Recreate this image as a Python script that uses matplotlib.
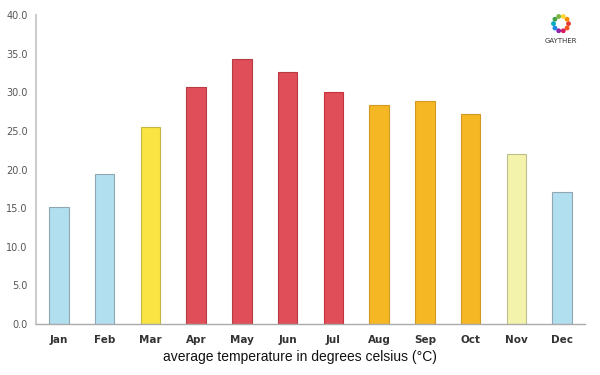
import matplotlib
matplotlib.use("Agg")
import matplotlib.pyplot as plt
import numpy as np

# monthly averages
months = ["Jan", "Feb", "Mar", "Apr", "May", "Jun", "Jul", "Aug", "Sep", "Oct", "Nov", "Dec"]
temps = [15.2, 19.4, 25.5, 30.7, 34.3, 32.6, 30.0, 28.4, 28.9, 27.2, 22.0, 17.1]
fills = ["#b1dff0", "#b1dff0", "#f9e443", "#e04f59", "#e04f59", "#e04f59", "#e04f59",
         "#f5b724", "#f5b724", "#f5b724", "#f3f3ab", "#b1dff0"]
edges = ["#8fa7b3", "#8fa7b3", "#c9b640", "#b83a44", "#b83a44", "#b83a44", "#c8303c",
         "#d29a20", "#d29a20", "#d29a20", "#bdbd90", "#8fa7b3"]
yticks = np.arange(0, 45, 5)
logo_colors = ["#e53935", "#fb8c00", "#fdd835", "#7cb342", "#43a047", "#00acc1",
               "#1e88e5", "#8e24aa", "#d81b60", "#f4511e"]

fig = plt.figure(figsize=(6, 3.75), dpi=100)
ax = fig.add_axes([0.06, 0.136, 0.915, 0.824])

x = np.arange(len(months))
ax.bar(x, temps, width=0.43, color=fills, edgecolor=edges, linewidth=0.8)

ax.set_xlim(-0.5, 11.5)
ax.set_ylim(0, 40)
ax.set_yticks(yticks)
ax.set_yticklabels(["%.1f" % v for v in yticks], fontsize=7, color="#555555",
                   family="DejaVu Sans")
ax.set_xticks(x)
ax.set_xticklabels(months, fontsize=7.5, fontweight="bold", color="#333333",
                   family="DejaVu Sans")
ax.tick_params(axis="both", length=0)
ax.tick_params(axis="x", pad=8)
ax.tick_params(axis="y", pad=6)

for s in ["top", "right"]:
    ax.spines[s].set_visible(False)
ax.spines["left"].set_color("#cccccc")
ax.spines["left"].set_linewidth(1.5)
ax.spines["bottom"].set_color("#aaaaaa")
ax.spines["bottom"].set_linewidth(1.0)

fig.text(0.5, 0.048, "average temperature in degrees celsius (\u00b0C)",
         ha="center", va="center", fontsize=10, family="Liberation Sans",
         color="#111111")

# logo
lax = fig.add_axes([0.915, 0.905, 0.04, 0.064])
ang = np.linspace(0, 2 * np.pi, len(logo_colors), endpoint=False)
lax.scatter(np.cos(ang), np.sin(ang), s=6, c=logo_colors, marker="o")
lax.set_xlim(-1.6, 1.6)
lax.set_ylim(-1.6, 1.6)
lax.axis("off")
fig.text(0.935, 0.89, "GAYTHER", ha="center", va="center", fontsize=5,
         color="#333333", family="DejaVu Sans")

fig.savefig("out.png", dpi=100)
